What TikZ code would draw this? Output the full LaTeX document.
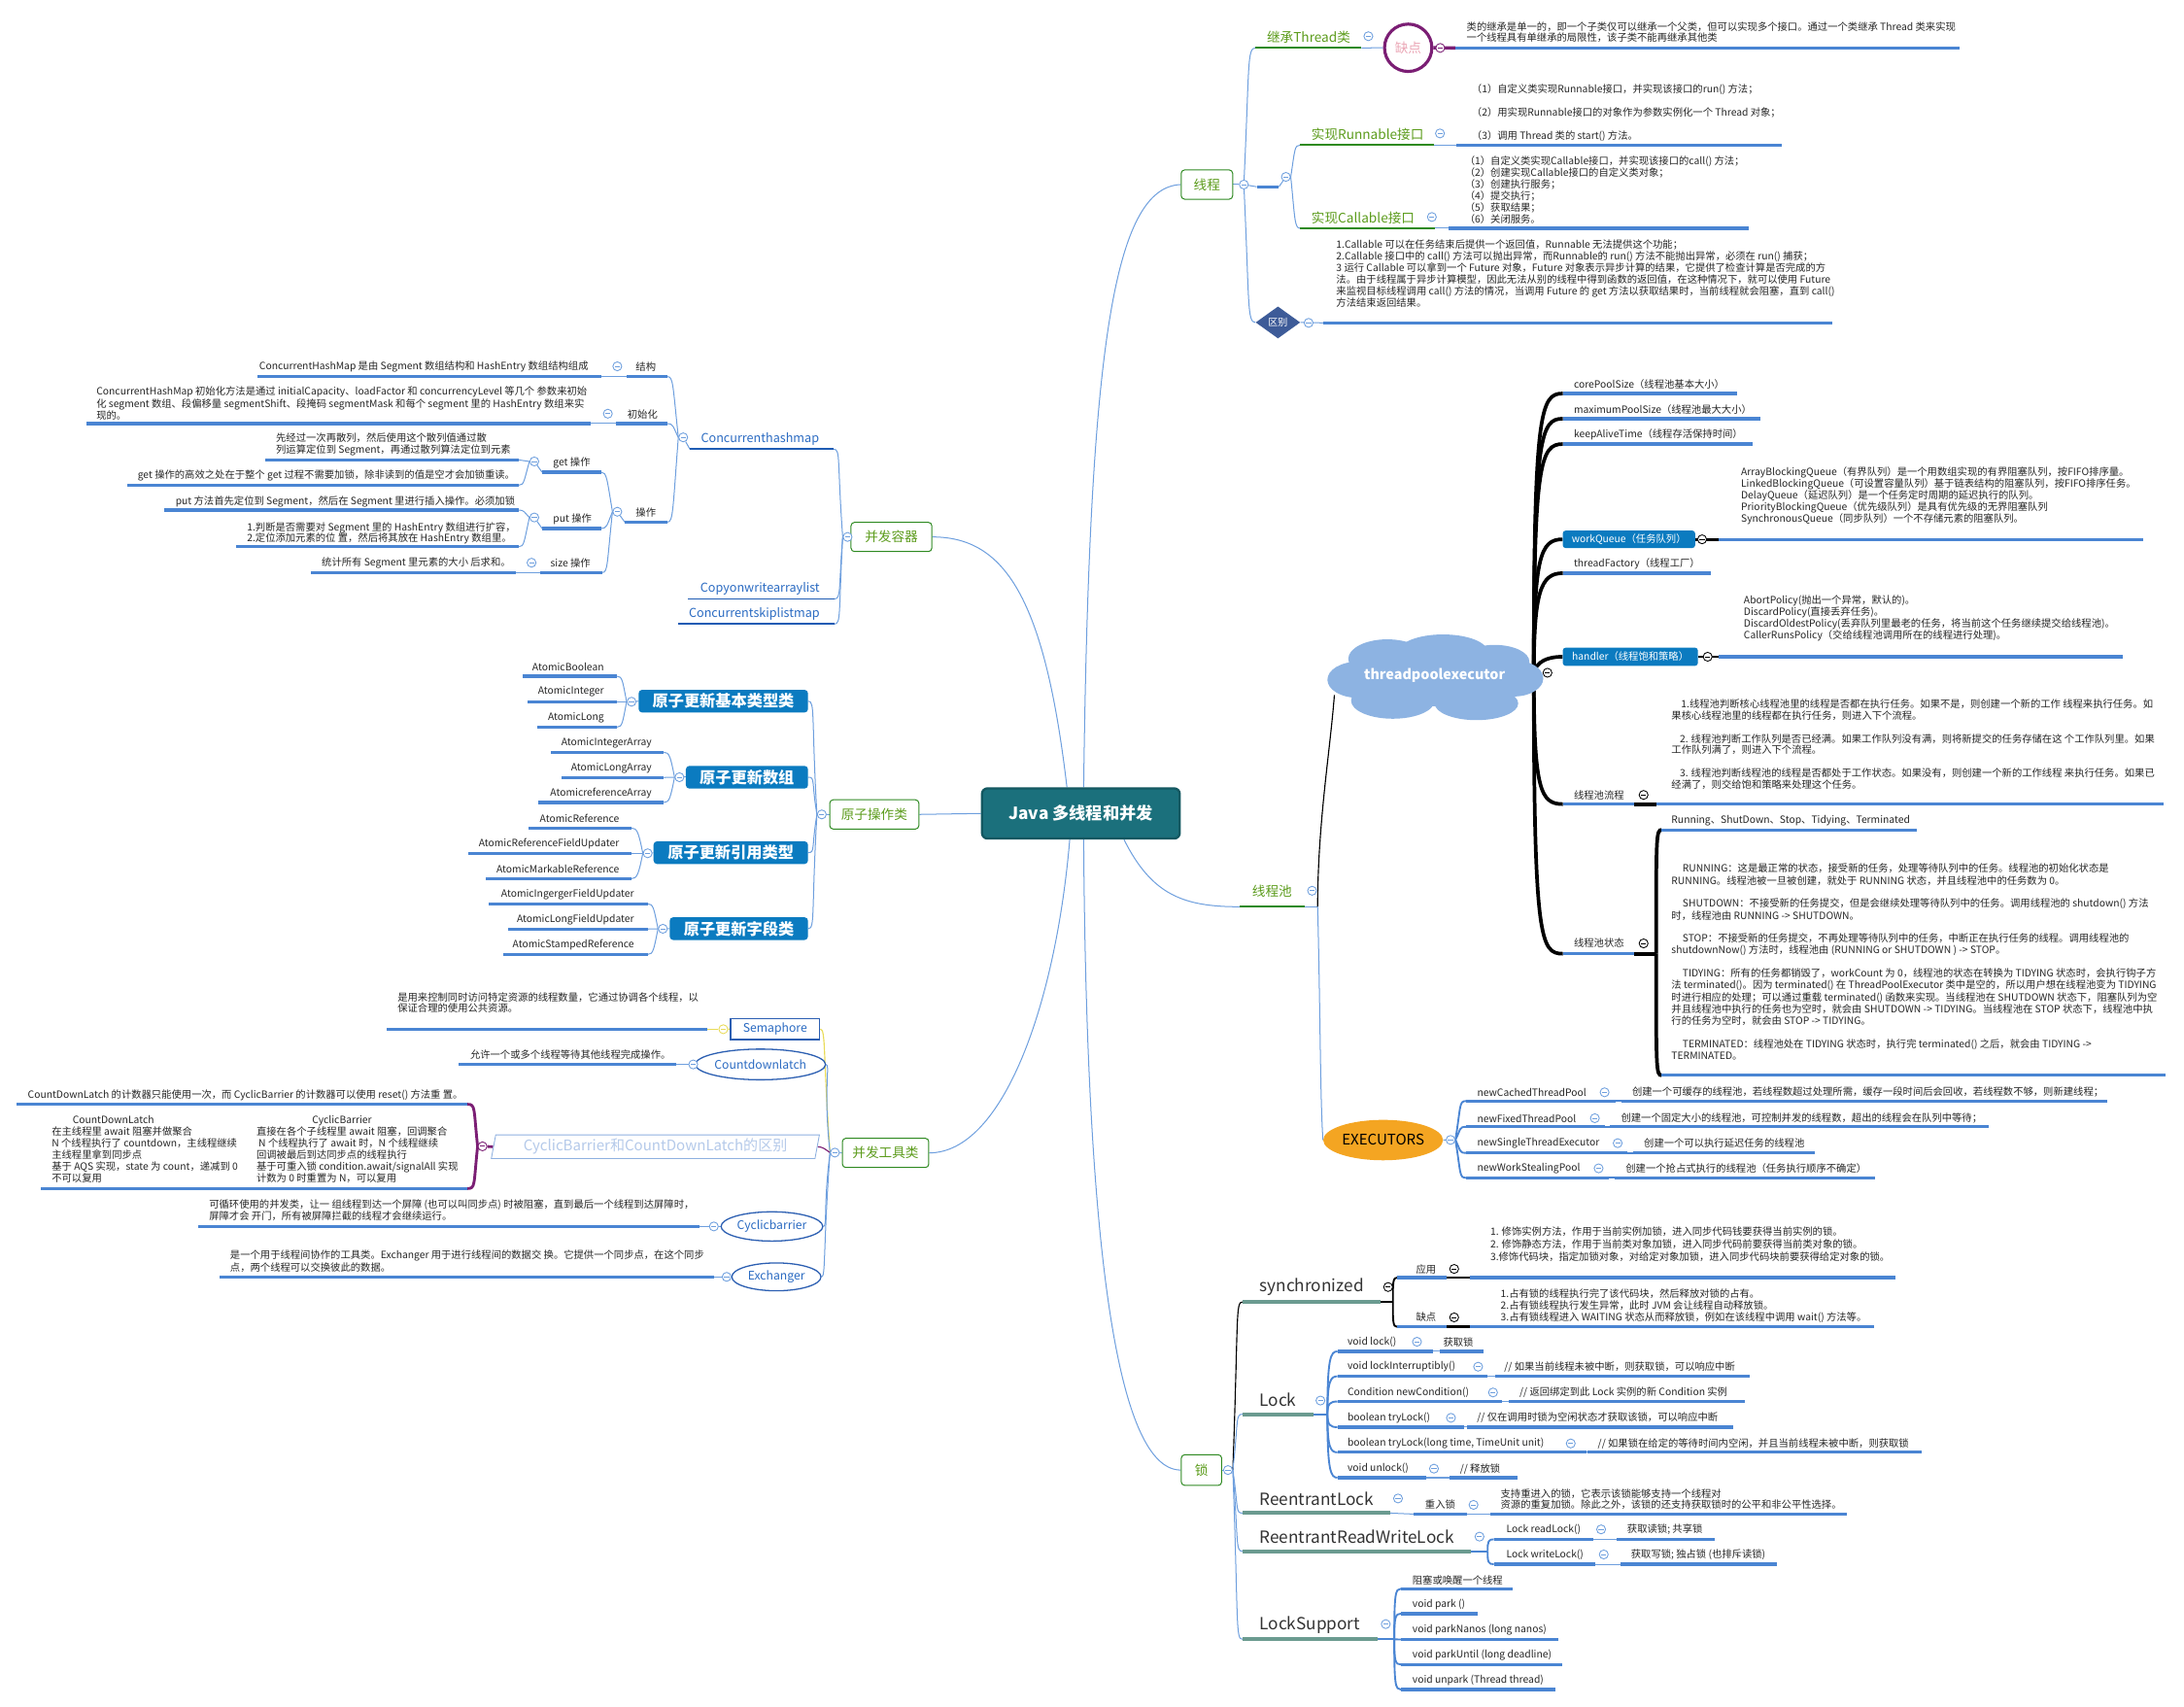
\documentclass[tikz,border=0pt]{standalone}
\usepackage{fontspec}
\setmainfont{Noto Sans CJK SC}
\usetikzlibrary{shapes.geometric,backgrounds}
\definecolor{txtc}{HTML}{262626}
\definecolor{cline}{HTML}{6E9FDE}
\definecolor{ulc}{HTML}{4A85D3}
\definecolor{ggreen}{HTML}{5C9C1C}
\definecolor{gborder}{HTML}{2F8A22}
\definecolor{ulgreen}{HTML}{2E8A1C}
\definecolor{rootfill}{HTML}{1B707C}
\definecolor{rootedge}{HTML}{145861}
\definecolor{abox}{HTML}{0B7BC0}
\definecolor{tealul}{HTML}{6B9B90}
\definecolor{cloudc}{HTML}{8DB3E2}
\definecolor{orangec}{HTML}{F4A522}
\definecolor{purplec}{HTML}{7B1E74}
\definecolor{pinkc}{HTML}{EBA7B6}
\definecolor{diac}{HTML}{3D5B98}
\definecolor{dkblue}{HTML}{2B6BC2}
\definecolor{dkblueul}{HTML}{1F5CB4}
\definecolor{semedge}{HTML}{2C5FB2}
\definecolor{paletext}{HTML}{B5CAEA}
\definecolor{paleedge}{HTML}{8EB0E0}
\definecolor{yellowc}{HTML}{E9DB58}
\definecolor{darktxt}{HTML}{333333}

\tikzset{
  lt/.style={inner sep=0pt, outer sep=0pt, anchor=west, text=txtc, font=\fontsize{7.2}{8.4}\selectfont},
  rtx/.style={lt, anchor=east},
  blk/.style={inner sep=0pt, outer sep=0pt, anchor=north west, align=left, text=txtc, font=\fontsize{7.2}{#1}\selectfont},
  barst/.style={rectangle, inner sep=0pt, outer sep=0pt, minimum height=2.2pt, fill=ulc, anchor=west},
  ubg/.style={fill=ulgreen, minimum height=1.3pt},
  ubt/.style={fill=tealul, minimum height=2.8pt},
  ubd/.style={fill=dkblueul, minimum height=1.3pt},
  foldc/.style={circle, draw=#1, fill=white, line width=0.6pt, minimum size=6.4pt, inner sep=0pt,
    path picture={\draw[#1, line width=0.6pt] ([xshift=1.4pt]path picture bounding box.west) -- ([xshift=-1.4pt]path picture bounding box.east);}},
  foldc/.default=cline,
  gbox/.style={rectangle, rounded corners=2.5pt, draw=gborder, line width=0.7pt, fill=white, text=ggreen, font=\fontsize{9.5}{11}\selectfont, inner sep=0pt, minimum height=21pt},
  gtxt/.style={inner sep=0pt, outer sep=0pt, anchor=west, text=ggreen, font=\fontsize{9.5}{11}\selectfont},
  abx/.style={rectangle, rounded corners=2.5pt, fill=abox, text=white, font=\fontsize{11.3}{13}\selectfont\bfseries, inner sep=0pt, minimum height=16.3pt},
  sbx/.style={rectangle, rounded corners=2pt, fill=abox, text=white, font=\fontsize{7.2}{8.4}\selectfont, inner sep=0pt},
  big/.style={inner sep=0pt, outer sep=0pt, anchor=west, text=darktxt, font=\fontsize{12}{14}\selectfont},
  blt/.style={inner sep=0pt, outer sep=0pt, text=dkblue, font=\fontsize{8.8}{10}\selectfont},
  ovl/.style={ellipse, draw=semedge, line width=0.9pt, fill=white, inner sep=0pt, text=dkblue, font=\fontsize{8.5}{10}\selectfont},
  conn/.style={draw=cline, line width=0.7pt},
  bconn/.style={draw=ulc, line width=1.3pt},
  kconn/.style={draw=black, line width=2.6pt},
}
% underline bar of a topic: [style]{name}{x0}{x1}{y}
\newcommand\topicbar[5][]{\node[barst,#1,minimum width={(#4)-(#3)}] (#2) at (#3,#5) {};}

\begin{document}
\begin{tikzpicture}[x=1pt,y=-1pt]
\useasboundingbox (0,0) rectangle (1568,1225);
\begin{scope}[on background layer]
  \fill[white] (0,0) rectangle (1568,1225);
\end{scope}

% ---------- root and main branches ----------
\node[rectangle, rounded corners=4pt, fill=rootfill, draw=rootedge, line width=1.6pt, minimum width=142pt, minimum height=36pt, inner sep=0pt, text=white, font=\fontsize{12}{14}\selectfont\bfseries] (root) at (776,584) {Java 多线程和并发};

\node[gbox, minimum width=37pt] (xc) at (866.5,132.5) {线程};
\node[foldc] (xc-f) at (893,132.5) {};
\node[gbox, minimum width=58pt] (bfrq) at (640,385.5) {并发容器};
\node[foldc] (bfrq-f) at (608.5,385.5) {};
\node[gbox, minimum width=64pt] (yzcz) at (627.7,584.7) {原子操作类};
\node[foldc] (yzcz-f) at (590,584.7) {};
\node[gbox, minimum width=62pt] (bfgj) at (635.8,827.7) {并发工具类};
\node[foldc] (bfgj-f) at (599.4,827.5) {};
\node[gbox, minimum width=29pt, minimum height=22pt] (suo) at (862.6,1055.4) {锁};
\node[foldc] (suo-f) at (881.6,1055.4) {};
\node[gtxt] (xcc-t) at (899,639.5) {线程池};
\topicbar[ubg]{xcc}{890}{937}{651}
\node[foldc] (xcc-f) at (942,639.5) {};
\coordinate (xcc-j) at (946,651);

% ---------- 线程 ----------
\node[gtxt] (jc-t) at (909.6,26.7) {继承Thread类};
\topicbar[ubg]{jc}{901.3}{977.4}{34.4}
\node[foldc] (jc-f) at (982.4,26) {};
\node[circle, draw=purplec, line width=2.2pt, fill=white, minimum size=34pt, inner sep=0pt, text=pinkc, font=\fontsize{9.5}{11}\selectfont] (qd) at (1011,34.3) {缺点};
\node[foldc=purplec] (qd-f) at (1034,34.4) {};
\topicbar{qd-u}{1045}{1407}{34.4}
\node[blk=7.6] (qd-x) at (1053,16.2) {类的继承是单一的，即一个子类仅可以继承一个父类，但可以实现多个接口。通过一个类继承 Thread 类来实现\\一个线程具有单继承的局限性，该子类不能再继承其他类};

\topicbar{xm}{902.3}{918.2}{134.1}
\node[foldc] (xm-f) at (923.2,127) {};

\node[gtxt] (rn-t) at (941.6,96.5) {实现Runnable接口};
\topicbar[ubg]{rn}{933.4}{1029.5}{104.2}
\node[foldc] (rn-f) at (1033.8,95.8) {};
\topicbar{rn-u}{1045.5}{1279.3}{104.2}
\node[blk=16.6] (rn-x) at (1056.7,60.4) {（1）自定义类实现Runnable接口，并实现该接口的run() 方法；\\（2）用实现Runnable接口的对象作为参数实例化一个 Thread 对象；\\（3）调用 Thread 类的 start() 方法。};

\node[gtxt] (cl-t) at (941.6,156.2) {实现Callable接口};
\topicbar[ubg]{cl}{933.4}{1030}{163.9}
\node[foldc] (cl-f) at (1028,155.8) {};
\topicbar{cl-u}{1040}{1255.5}{163.9}
\node[blk=8.36] (cl-x) at (1051.7,112) {（1）自定义类实现Callable接口，并实现该接口的call() 方法；\\（2）创建实现Callable接口的自定义类对象；\\（3）创建执行服务；\\（4）提交执行；\\（5）获取结果；\\（6）关闭服务。};

\node[diamond, aspect=1.4, fill=diac, minimum width=32pt, minimum height=23pt, inner sep=0pt, text=white, font=\fontsize{7}{8}\selectfont] (qb) at (917.5,231.5) {区别};
\node[foldc] (qb-f) at (939.5,231.8) {};
\topicbar{qb-u}{950.3}{1315.5}{231.8}
\node[blk=8.35] (qb-x) at (959.4,171.9) {1.Callable 可以在任务结束后提供一个返回值，Runnable 无法提供这个功能；\\2.Callable 接口中的 call() 方法可以抛出异常，而Runnable的 run() 方法不能抛出异常，必须在 run() 捕获；\\3 运行 Callable 可以拿到一个 Future 对象，Future 对象表示异步计算的结果，它提供了检查计算是否完成的方\\法。由于线程属于异步计算模型，因此无法从别的线程中得到函数的返回值，在这种情况下，就可以使用 Future\\来监视目标线程调用 call() 方法的情况，当调用 Future 的 get 方法以获取结果时，当前线程就会阻塞，直到 call()\\方法结束返回结果。};

% ---------- 线程池 ----------
% cloud body built from overlapping puffs
\begin{scope}[fill=cloudc]
  \fill (1030,487) ellipse [x radius=70pt, y radius=20pt];
  \fill (975,488) ellipse [x radius=22pt, y radius=13pt];
  \fill (1087,487) ellipse [x radius=21pt, y radius=13pt];
  \fill (996,473) ellipse [x radius=28pt, y radius=14pt];
  \fill (1036,468) ellipse [x radius=32pt, y radius=12.5pt];
  \fill (1073,475) ellipse [x radius=25pt, y radius=12pt];
  \fill (1000,503) ellipse [x radius=30pt, y radius=13pt];
  \fill (1060,505) ellipse [x radius=30pt, y radius=12pt];
\end{scope}
\node[rectangle, minimum width=156pt, minimum height=60pt, inner sep=0pt, text=white, font=\fontsize{10}{12}\selectfont\bfseries] (tpe) at (1030,485) {threadpoolexecutor};
\node[foldc=black] (tpe-f) at (1111,483) {};

\topicbar{cp}{1122}{1247}{282.5}
\node[lt] (cp-t) at (1130,276) {corePoolSize（线程池基本大小）};
\topicbar{mp}{1122}{1264}{300.6}
\node[lt] (mp-t) at (1130,294) {maximumPoolSize（线程池最大大小）};
\topicbar{ka}{1122}{1258.6}{318.8}
\node[lt] (ka-t) at (1130,312) {keepAliveTime（线程存活保持时间）};
\node[sbx, minimum width=95pt, minimum height=12.5pt] (wq) at (1169.5,387.2) {workQueue（任务队列）};
\node[foldc=black] (wq-f) at (1222,387.2) {};
\topicbar{wq-u}{1234}{1539}{387.2}
\node[blk=8.3] (wq-x) at (1250,335.2) {ArrayBlockingQueue（有界队列）是一个用数组实现的有界阻塞队列，按FIFO排序量。\\LinkedBlockingQueue（可设置容量队列）基于链表结构的阻塞队列，按FIFO排序任务。\\DelayQueue（延迟队列）是一个任务定时周期的延迟执行的队列。\\PriorityBlockingQueue（优先级队列）是具有优先级的无界阻塞队列\\SynchronousQueue（同步队列）一个不存储元素的阻塞队列。};
\topicbar{tf}{1122}{1228}{411.5}
\node[lt] (tf-t) at (1130,405) {threadFactory（线程工厂）};
\node[sbx, minimum width=97pt, minimum height=13pt] (hd) at (1170.5,471.5) {handler（线程饱和策略）};
\node[foldc=black] (hd-f) at (1226,471.5) {};
\topicbar{hd-u}{1234}{1524}{471.5}
\node[blk=8.3] (hd-x) at (1252,427.4) {AbortPolicy(抛出一个异常，默认的)。\\DiscardPolicy(直接丢弃任务)。\\DiscardOldestPolicy(丢弃队列里最老的任务，将当前这个任务继续提交给线程池)。\\CallerRunsPolicy（交给线程池调用所在的线程进行处理)。};

\topicbar{lc}{1122}{1173}{577.3}
\node[lt] (lc-t) at (1130,570.7) {线程池流程};
\node[foldc=black] (lc-f) at (1180,570.7) {};
\topicbar{lc-u}{1189}{1553}{577.3}
\node[blk=8] (lc-x) at (1200,502.4) {\hspace*{7pt}1.线程池判断核心线程池里的线程是否都在执行任务。如果不是，则创建一个新的工作 线程来执行任务。如\\果核心线程池里的线程都在执行任务，则进入下个流程。\\[8.6pt]\hspace*{6pt}2. 线程池判断工作队列是否已经满。如果工作队列没有满，则将新提交的任务存储在这 个工作队列里。如果\\工作队列满了，则进入下个流程。\\[8.6pt]\hspace*{6pt}3. 线程池判断线程池的线程是否都处于工作状态。如果没有，则创建一个新的工作线程 来执行任务。如果已\\经满了，则交给饱和策略来处理这个任务。};

\topicbar{zt}{1122}{1173}{684.7}
\node[lt] (zt-t) at (1130,677.3) {线程池状态};
\node[foldc=black] (zt-f) at (1180,677.3) {};
\coordinate (zt-j) at (1189,684.7);
\topicbar{zt-u1}{1193}{1376}{595.8}
\node[lt] (zt-x1) at (1200,589) {Running、ShutDown、Stop、Tidying、Terminated};
\topicbar{zt-u2}{1193}{1555}{772}
\node[blk=8.45] (zt-x2) at (1200,620.2) {\hspace*{8pt}RUNNING：这是最正常的状态，接受新的任务，处理等待队列中的任务。线程池的初始化状态是\\RUNNING。线程池被一旦被创建，就处于 RUNNING 状态，并且线程池中的任务数为 0。\\[8.2pt]\hspace*{8pt}SHUTDOWN：不接受新的任务提交，但是会继续处理等待队列中的任务。调用线程池的 shutdown() 方法\\时，线程池由 RUNNING -> SHUTDOWN。\\[8.2pt]\hspace*{8pt}STOP：不接受新的任务提交，不再处理等待队列中的任务，中断正在执行任务的线程。调用线程池的\\shutdownNow() 方法时，线程池由 (RUNNING or SHUTDOWN ) -> STOP。\\[8.2pt]\hspace*{8pt}TIDYING：所有的任务都销毁了，workCount 为 0，线程池的状态在转换为 TIDYING 状态时，会执行钩子方\\法 terminated()。因为 terminated() 在 ThreadPoolExecutor 类中是空的，所以用户想在线程池变为 TIDYING\\时进行相应的处理；可以通过重载 terminated() 函数来实现。当线程池在 SHUTDOWN 状态下，阻塞队列为空\\并且线程池中执行的任务也为空时，就会由 SHUTDOWN -> TIDYING。当线程池在 STOP 状态下，线程池中执\\行的任务为空时，就会由 STOP -> TIDYING。\\[8.2pt]\hspace*{8pt}TERMINATED：线程池处在 TIDYING 状态时，执行完 terminated() 之后，就会由 TIDYING ->\\TERMINATED。};

\node[ellipse, fill=orangec, minimum width=86pt, minimum height=29pt, inner sep=0pt, text=black, font=\fontsize{10.5}{12}\selectfont] (exe) at (993,818.5) {EXECUTORS};
\node[foldc] (exe-f) at (1041.4,818.4) {};
\topicbar{nc}{1052.5}{1160}{790.5}
\node[lt] (nc-t) at (1060.6,784.2) {newCachedThreadPool};
\node[foldc] (nc-f) at (1152,784.2) {};
\topicbar{nc-u}{1164}{1513}{790.5}
\node[lt] (nc-x) at (1171.8,784.2) {创建一个可缓存的线程池，若线程数超过处理所需，缓存一段时间后会回收，若线程数不够，则新建线程；};
\topicbar{nf}{1052.5}{1152}{809}
\node[lt] (nf-t) at (1060.6,802.8) {newFixedThreadPool};
\node[foldc] (nf-f) at (1145,802.8) {};
\topicbar{nf-u}{1156}{1427.5}{809}
\node[lt] (nf-x) at (1163.8,802.8) {创建一个固定大小的线程池，可控制并发的线程数，超出的线程会在队列中等待；};
\topicbar{ns}{1052.5}{1168}{827.7}
\node[lt] (ns-t) at (1060.6,820.7) {newSingleThreadExecutor};
\node[foldc] (ns-f) at (1161.4,820.7) {};
\topicbar{ns-u}{1172.4}{1303}{827.7}
\node[lt] (ns-x) at (1180.3,820.7) {创建一个可以执行延迟任务的线程池};
\topicbar{nw}{1052.5}{1155}{845.6}
\node[lt] (nw-t) at (1060.6,838.8) {newWorkStealingPool};
\node[foldc] (nw-f) at (1147.7,838.8) {};
\topicbar{nw-u}{1159.3}{1345.9}{845.6}
\node[lt] (nw-x) at (1167.2,838.8) {创建一个抢占式执行的线程池（任务执行顺序不确定）};

% ---------- 锁 ----------
\node[big] (sy-t) at (904.4,924.2) {synchronized};
\topicbar[ubt]{sy}{892}{990.9}{934.7}
\node[foldc=black] (sy-f) at (996.6,924) {};
\coordinate (sy-j) at (1000,934.7);
\node[lt] (yy-t) at (1016.7,911) {应用};
\topicbar{yy}{1003}{1038.4}{917.2}
\node[foldc=black] (yy-f) at (1044,911) {};
\topicbar{yy-u}{1055.3}{1361}{917.2}
\node[blk=9.05] (yy-x) at (1070,881.1) {1. 修饰实例方法，作用于当前实例加锁，进入同步代码钱要获得当前实例的锁。\\2. 修饰静态方法，作用于当前类对象加锁，进入同步代码前要获得当前类对象的锁。\\3.修饰代码块，指定加锁对象，对给定对象加锁，进入同步代码块前要获得给定对象的锁。};
\node[lt] (qd2-t) at (1016.7,945.8) {缺点};
\topicbar{qd2}{1003}{1038.4}{952.6}
\node[foldc=black] (qd2-f) at (1044,945.8) {};
\topicbar{qd2-u}{1055.3}{1345.6}{952.6}
\node[blk=8.5] (qd2-x) at (1077.4,925.2) {1.占有锁的线程执行完了该代码块，然后释放对锁的占有。\\2.占有锁线程执行发生异常，此时 JVM 会让线程自动释放锁。\\3.占有锁线程进入 WAITING 状态从而释放锁，例如在该线程中调用 wait() 方法等。};

\node[big] (lk-t) at (904.4,1005) {Lock};
\topicbar[ubt]{lk}{892}{942.8}{1015.3}
\node[foldc] (lk-f) at (948,1005.5) {};
\coordinate (lk-j) at (953,1015.3);
\topicbar{l1}{960.2}{1028.7}{970.2}
\node[lt] (l1-t) at (967.5,963.3) {void lock()};
\node[foldc] (l1-f) at (1017.3,963.3) {};
\topicbar{l1-u}{1033.6}{1065.4}{970.2}
\node[lt] (l1-x) at (1036.2,963.3) {获取锁};
\topicbar{l2}{960.2}{1067.6}{988.1}
\node[lt] (l2-t) at (967.5,981.2) {void lockInterruptibly()};
\node[foldc] (l2-f) at (1061.2,981.2) {};
\topicbar{l2-u}{1073.4}{1256}{988.1}
\node[lt] (l2-x) at (1080,981.2) {// 如果当前线程未被中断，则获取锁，可以响应中断};
\topicbar{l3}{960.2}{1078}{1006.2}
\node[lt] (l3-t) at (967.5,999.7) {Condition newCondition()};
\node[foldc] (l3-f) at (1071.9,999.7) {};
\topicbar{l3-u}{1083.2}{1252.7}{1006.2}
\node[lt] (l3-x) at (1091,999.7) {// 返回绑定到此 Lock 实例的新 Condition 实例};
\topicbar{l4}{960.2}{1050.8}{1024.6}
\node[lt] (l4-t) at (967.5,1017.9) {boolean tryLock()};
\node[foldc] (l4-f) at (1041.7,1017.9) {};
\topicbar{l4-u}{1053}{1244}{1024.6}
\node[lt] (l4-x) at (1060.5,1017.9) {// 仅在调用时锁为空闲状态才获取该锁，可以响应中断};
\topicbar{l5}{960.2}{1139}{1042.7}
\node[lt] (l5-t) at (967.5,1036.3) {boolean tryLock(long time, TimeUnit unit)};
\node[foldc] (l5-f) at (1127.7,1036.3) {};
\topicbar{l5-u}{1139.5}{1380}{1042.7}
\node[lt] (l5-x) at (1147.2,1036.3) {// 如果锁在给定的等待时间内空闲，并且当前线程未被中断，则获取锁};
\topicbar{l6}{960.2}{1023.9}{1060.9}
\node[lt] (l6-t) at (967.5,1054.4) {void unlock()};
\node[foldc] (l6-f) at (1029.5,1054.4) {};
\topicbar{l6-u}{1041}{1089.8}{1060.9}
\node[lt] (l6-x) at (1048.2,1054.4) {// 释放锁};

\node[big] (rl-t) at (904.4,1076) {ReentrantLock};
\topicbar[ubt]{rl}{892}{997.9}{1086.3}
\node[foldc] (rl-f) at (1003.7,1075.8) {};
\node[lt] (cr-t) at (1023.2,1080.4) {重入锁};
\topicbar{cr}{1015}{1053}{1087}
\node[foldc] (cr-f) at (1057.9,1080.4) {};
\topicbar{cr-u}{1070}{1325.8}{1087}
\node[blk=7.9] (cr-x) at (1077.4,1068.9) {支持重进入的锁，它表示该锁能够支持一个线程对\\资源的重复加锁。除此之外，该锁的还支持获取锁时的公平和非公平性选择。};

\node[big] (rw-t) at (904.4,1103.2) {ReentrantReadWriteLock};
\topicbar[ubt]{rw}{892}{1056.3}{1113.7}
\node[foldc] (rw-f) at (1062.2,1103.2) {};
\coordinate (rw-j) at (1068,1113.7);
\topicbar{rd}{1072.5}{1144}{1105.1}
\node[lt] (rd-t) at (1081.6,1098) {Lock readLock()};
\node[foldc] (rd-f) at (1149.5,1098) {};
\topicbar{rd-u}{1160.6}{1231}{1105.1}
\node[lt] (rd-x) at (1168.3,1098) {获取读锁; 共享锁};
\topicbar{wr}{1072.5}{1145.6}{1123}
\node[lt] (wr-t) at (1081.6,1116) {Lock writeLock()};
\node[foldc] (wr-f) at (1151.4,1116) {};
\topicbar{wr-u}{1163.4}{1275.4}{1123}
\node[lt] (wr-x) at (1171,1116) {获取写锁; 独占锁 (也排斥读锁)};

\node[big] (ls-t) at (904.4,1166.4) {LockSupport};
\topicbar[ubt]{ls}{892}{989}{1176.9}
\node[foldc] (ls-f) at (994.9,1166) {};
\coordinate (ls-j) at (1001,1176.9);
\topicbar{s1}{1005.8}{1086.2}{1140.6}
\node[lt] (s1-t) at (1014.1,1134.2) {阻塞或唤醒一个线程};
\topicbar{s2}{1005.8}{1061.2}{1158.5}
\node[lt] (s2-t) at (1014.1,1152) {void park ()};
\topicbar{s3}{1005.8}{1118.8}{1177}
\node[lt] (s3-t) at (1014.1,1170) {void parkNanos (long nanos)};
\topicbar{s4}{1005.8}{1121.6}{1195}
\node[lt] (s4-t) at (1014.1,1188) {void parkUntil (long deadline)};
\topicbar{s5}{1005.8}{1117}{1213}
\node[lt] (s5-t) at (1014.1,1206.2) {void unpark (Thread thread)};

% ---------- 并发容器 ----------
\node[blt, anchor=west] (chm-t) at (503.3,315) {Concurrenthashmap};
\topicbar[ubd]{chm}{495.3}{598.6}{322.5}
\node[foldc] (chm-f) at (490.5,314) {};
\node[blt, anchor=east] (cow-t) at (588.5,422.4) {Copyonwritearraylist};
\topicbar[ubd]{cow}{494}{599}{430}
\node[blt, anchor=east] (csl-t) at (588.5,440.6) {Concurrentskiplistmap};
\topicbar[ubd]{csl}{487}{599}{448}

\node[lt] (jg-t) at (456.5,263.2) {结构};
\topicbar{jg}{449.7}{479.3}{270.4}
\node[foldc] (jg-f) at (443.2,263) {};
\topicbar{jg-u}{184.9}{431.6}{270.4}
\node[rtx] (jg-x) at (422.4,263.2) {ConcurrentHashMap 是由 Segment 数组结构和 HashEntry 数组结构组成};

\node[lt] (csh-t) at (450.5,297.6) {初始化};
\topicbar{csh}{442.4}{479.3}{304.1}
\node[foldc] (csh-f) at (436.4,297) {};
\topicbar{csh-u}{62.1}{424.4}{304.1}
\node[blk=8.5] (csh-x) at (69.3,277.7) {ConcurrentHashMap 初始化方法是通过 initialCapacity、loadFactor 和 concurrencyLevel 等几个 参数来初始\\化 segment 数组、段偏移量 segmentShift、段掩码 segmentMask 和每个 segment 里的 HashEntry 数组来实\\现的。};

\node[lt] (cz-t) at (456.5,368) {操作};
\topicbar{cz}{448.5}{479.3}{374.8}
\node[foldc] (cz-f) at (443.2,367.4) {};

\node[lt] (get-t) at (397.2,332.5) {get 操作};
\topicbar{get}{389.2}{431.6}{339}
\node[foldc] (get-f) at (383.6,331.3) {};
\topicbar{get-u1}{190.2}{372.4}{330.2}
\node[blk=8.9] (get-x1) at (198.2,310.7) {先经过一次再散列，然后使用这个散列值通过散\\列运算定位到 Segment，再通过散列算法定位到元素};
\topicbar{get-u2}{91.3}{372.4}{348.3}
\node[lt] (get-x2) at (98.9,341.3) {get 操作的高效之处在于整个 get 过程不需要加锁，除非读到的值是空才会加锁重读。};

\node[lt] (put-t) at (397.2,372.5) {put 操作};
\topicbar{put}{389.2}{431.6}{379.4}
\node[foldc] (put-f) at (383.6,371.5) {};
\topicbar{put-u1}{118.1}{372.4}{366.2}
\node[lt] (put-x1) at (126.1,359.9) {put 方法首先定位到 Segment，然后在 Segment 里进行插入操作。必须加锁};
\topicbar{put-u2}{169.4}{372.4}{392.5}
\node[blk=8] (put-x2) at (177.4,374.9) {1.判断是否需要对 Segment 里的 HashEntry 数组进行扩容，\\2.定位添加元素的位 置，然后将其放在 HashEntry 数组里。};

\node[lt] (size-t) at (395.2,404.1) {size 操作};
\topicbar{size}{387.6}{432.4}{411}
\node[foldc] (size-f) at (381.6,404) {};
\topicbar{size-u}{223}{370.4}{411}
\node[lt] (size-x) at (231,404.1) {统计所有 Segment 里元素的大小 后求和。};

% ---------- 原子操作类 ----------
\node[abx, minimum width=121.6pt] (a1) at (519.3,503.4) {原子更新基本类型类};
\node[foldc] (a1-f) at (453.4,503.8) {};
\topicbar{a1-1}{375.5}{442.9}{485.5}
\node[rtx] (a1-1t) at (433.6,478.5) {AtomicBoolean};
\topicbar{a1-2}{379}{442.9}{503.8}
\node[rtx] (a1-2t) at (433.6,496.8) {AtomicInteger};
\topicbar{a1-3}{386}{442.9}{522}
\node[rtx] (a1-3t) at (433.6,515) {AtomicLong};

\node[abx, minimum width=87.7pt] (a2) at (536.25,558) {原子更新数组};
\node[foldc] (a2-f) at (487.8,558) {};
\topicbar{a2-1}{395.7}{476.6}{540.1}
\node[rtx] (a2-1t) at (467.8,533.1) {AtomicIntegerArray};
\topicbar{a2-2}{402.9}{476.6}{558.2}
\node[rtx] (a2-2t) at (467.8,551.3) {AtomicLongArray};
\topicbar{a2-3}{386.6}{476.6}{576.1}
\node[rtx] (a2-3t) at (467.8,569.4) {AtomicreferenceArray};

\node[abx, minimum width=110.9pt] (a3) at (524.65,612.15) {原子更新引用类型};
\node[foldc] (a3-f) at (465,612.6) {};
\topicbar{a3-1}{379.7}{453.4}{594.5}
\node[rtx] (a3-1t) at (444.5,587.5) {AtomicReference};
\topicbar{a3-2}{336.4}{453.4}{612.6}
\node[rtx] (a3-2t) at (444.5,605.6) {AtomicReferenceFieldUpdater};
\topicbar{a3-3}{348.8}{453.4}{630.8}
\node[rtx] (a3-3t) at (444.5,623.8) {AtomicMarkableReference};

\node[abx, minimum width=99.3pt] (a4) at (530.45,666.7) {原子更新字段类};
\node[foldc] (a4-f) at (475.9,666.8) {};
\topicbar{a4-1}{351.1}{465}{648.9}
\node[rtx] (a4-1t) at (455.2,641.9) {AtomicIngergerFieldUpdater};
\topicbar{a4-2}{365}{465}{667}
\node[rtx] (a4-2t) at (455.2,660) {AtomicLongFieldUpdater};
\topicbar{a4-3}{361.1}{465}{685.2}
\node[rtx] (a4-3t) at (455.2,678.2) {AtomicStampedReference};

% ---------- 并发工具类 ----------
\node[rectangle, draw=semedge, line width=0.9pt, fill=white, minimum width=64pt, minimum height=15pt, inner sep=0pt, text=dkblue, font=\fontsize{8.5}{10}\selectfont] (sem) at (556.5,738.8) {Semaphore};
\node[foldc=yellowc] (sem-f) at (519.3,738.9) {};
\topicbar{sem-u}{277.5}{507.7}{738.9}
\node[blk=7.8] (sem-x) at (285.5,712.4) {是用来控制同时访问特定资源的线程数量，它通过协调各个线程，以\\保证合理的使用公共资源。};

\node[ovl, minimum width=87pt, minimum height=22pt] (cdl) at (546,764.2) {Countdownlatch};
\node[foldc] (cdl-f) at (497.7,764.2) {};
\topicbar{cdl-u}{329.5}{485.7}{764.2}
\node[lt] (cdl-x) at (337.6,757.5) {允许一个或多个线程等待其他线程完成操作。};

\node[trapezium, trapezium left angle=77, trapezium right angle=103, trapezium stretches=true, draw=paleedge, line width=0.6pt, fill=white, minimum width=236pt, minimum height=17pt, inner sep=0pt, text=paletext, font=\fontsize{10.5}{12}\selectfont] (cbq) at (470.5,823.3) {CyclicBarrier和CountDownLatch的区别};
\node[foldc=purplec] (cbq-f) at (346.4,823) {};
\topicbar{cbq-u1}{12}{335.5}{792.8}
\node[lt] (cbq-x1) at (20,786.5) {CountDownLatch 的计数器只能使用一次，而 CyclicBarrier 的计数器可以使用 reset() 方法重 置。};
\topicbar{cbq-u2}{29.2}{335.5}{853.3}
\node[blk=8.4] (cbq-c1) at (37.2,800.8) {\hspace*{15pt}CountDownLatch\\在主线程里 await 阻塞并做聚合\\N 个线程执行了 countdown，主线程继续\\主线程里拿到同步点\\基于 AQS 实现，state 为 count，递减到 0\\不可以复用};
\node[blk=8.4] (cbq-c2) at (184.2,800.8) {\hspace*{40pt}CyclicBarrier\\直接在各个子线程里 await 阻塞，回调聚合\\\hspace*{1.5pt}N 个线程执行了 await 时，N 个线程继续\\回调被最后到达同步点的线程执行\\基于可重入锁 condition.await/signalAll 实现\\计数为 0 时重置为 N，可以复用};

\node[ovl, minimum width=73pt, minimum height=21pt] (cb) at (554.2,880.5) {Cyclicbarrier};
\node[foldc] (cb-f) at (512.5,880.5) {};
\topicbar{cb-u}{142.1}{502.5}{880.5}
\node[blk=8.1] (cb-x) at (150.2,861.3) {可循环使用的并发类，让一 组线程到达一个屏障 (也可以叫同步点) 时被阻塞，直到最后一个线程到达屏障时，\\屏障才会 开门，所有被屏障拦截的线程才会继续运行。};

\node[ovl, minimum width=64pt, minimum height=20pt] (ex) at (557.4,916.7) {Exchanger};
\node[foldc] (ex-f) at (521.7,916.7) {};
\topicbar{ex-u}{157.4}{512.5}{916.7}
\node[blk=7.7] (ex-x) at (165.3,897.8) {是一个用于线程间协作的工具类。Exchanger 用于进行线程间的数据交 换。它提供一个同步点，在这个同步\\点，两个线程可以交换彼此的数据。};

% ================= connectors =================
\begin{scope}[on background layer]
  % from the central topic
  \draw[conn] ([xshift=2pt]root.north) .. controls +(4,-316) and +(-48,2) .. (xc.west);
  \draw[conn] ([xshift=-10pt]root.north) .. controls +(-16,-136) and +(52,0) .. (bfrq.east);
  \draw[conn] (root.west) -- (yzcz.east);
  \draw[conn] ([xshift=-8pt]root.south) .. controls +(-10,118) and +(53,0) .. (bfgj.east);
  \draw[conn] ([xshift=2pt]root.south) .. controls +(2,300) and +(-45,0) .. (suo.west);
  \draw[conn] ([xshift=31pt]root.south) .. controls +(20,40) and +(-40,0) .. (xcc.west);

  % 线程
  \draw[conn] (xc.east) -- (xc-f);
  \draw[conn] (xc-f) .. controls +(4,-85) and +(-6,0) .. (jc.west);
  \draw[conn] (xc-f) -- (xm.west);
  \draw[conn] (xc-f) .. controls +(4,85) and +(-6,0) .. (qb.west);
  \draw[conn] (jc.east) -- (qd.west);
  \draw[purplec, line width=2.4pt] (qd.east) -- (qd-u.west);
  \draw[conn] (xm.east) -- (xm-f);
  \draw[conn] (xm-f.east) .. controls +(3,-20) and +(-4,0) .. (rn.west);
  \draw[conn] (xm-f.east) .. controls +(3,30) and +(-4,0) .. (cl.west);
  \draw[conn] (rn.east) -- (rn-u.west);
  \draw[conn] (cl.east) -- (cl-u.west);
  \draw[conn] (qb.east) -- (qb-u.west);

  % 线程池
  \draw[conn] (xcc.east) -- (xcc-j);
  \draw[black, line width=0.8pt] (xcc-j) .. controls +(0,-60) and +(-3,40) .. ([xshift=-72pt,yshift=-14pt]tpe.center);
  \draw[conn] (xcc-j) .. controls +(2,80) and +(-2,-30) .. (exe.west);
  \foreach \nm/\dy in {cp/-190, mp/-172, ka/-153, wq/-85, tf/-60, hd/-6, lc/82, zt/190}
    \draw[kconn] ([xshift=-7pt]tpe.east) .. controls +(0,\dy) and +(-16,0) .. (\nm.west);
  \draw[black, line width=2pt] (wq.east) -- (wq-u.west);
  \draw[black, line width=2pt] (hd.east) -- (hd-u.west);
  \draw[black, line width=2.6pt] (lc.east) -- (lc-u.west);
  \draw[black, line width=2.6pt] (zt.east) -- (zt-j);
  \draw[kconn] (zt-j) .. controls +(0,-85) and +(-4,0) .. (zt-u1.west);
  \draw[kconn] (zt-j) .. controls +(0,84) and +(-4,0) .. (zt-u2.west);
  \draw[conn] (exe.east) -- (exe-f);
  \foreach \nm/\dy in {nc/-25, nf/-8, ns/8, nw/24}
    \draw[bconn] (exe-f.east) .. controls +(4,\dy) and +(-5,0) .. (\nm.west);
  \foreach \nm in {nc,nf,ns,nw}
    \draw[bconn] (\nm.east) -- (\nm-u.west);

  % 锁
  \draw[conn] (suo.east) -- (suo-f);
  \draw[black, line width=0.8pt] (suo-f.east) .. controls +(4,-110) and +(-5,0) .. (sy.west);
  \foreach \nm/\dy in {lk/-36, rl/28, rw/52, ls/110}
    \draw[conn] (suo-f.east) .. controls +(4,\dy) and +(-5,0) .. (\nm.west);
  \draw[black, line width=1.3pt] (sy.east) -- (sy-j);
  \draw[black, line width=1.3pt] (sy-j) .. controls +(0,-14) and +(-3,0) .. (yy.west);
  \draw[black, line width=1.3pt] (sy-j) .. controls +(0,14) and +(-3,0) .. (qd2.west);
  \draw[black, line width=2pt] (yy.east) -- (yy-u.west);
  \draw[black, line width=2pt] (qd2.east) -- (qd2-u.west);
  \draw[bconn] (lk.east) -- (lk-j);
  \foreach \nm/\dy in {l1/-40, l2/-24, l3/-8, l4/8, l5/24, l6/40}
    \draw[bconn] (lk-j) .. controls +(0,\dy) and +(-5,0) .. (\nm.west);
  \foreach \nm in {l1,l2,l3,l4,l5,l6}
    \draw[conn] (\nm.east) -- (\nm-u.west);
  \draw[conn] (rl.east) -- (cr.west);
  \draw[conn] (cr.east) -- (cr-u.west);
  \draw[bconn] (rw.east) -- (rw-j);
  \draw[bconn] (rw-j) .. controls +(0,-7) and +(-4,0) .. (rd.west);
  \draw[bconn] (rw-j) .. controls +(0,8) and +(-4,0) .. (wr.west);
  \draw[conn] (rd.east) -- (rd-u.west);
  \draw[conn] (wr.east) -- (wr-u.west);
  \draw[bconn] (ls.east) -- (ls-j);
  \foreach \nm/\dy in {s1/-33, s2/-16, s3/0, s4/16, s5/33}
    \draw[bconn] (ls-j) .. controls +(0,\dy) and +(-4,0) .. (\nm.west);

  % 并发容器
  \draw[conn] (bfrq.west) -- (bfrq-f);
  \draw[conn] (bfrq-f.west) .. controls +(-4,-55) and +(5,0) .. (chm.east);
  \draw[conn] (bfrq-f.west) .. controls +(-3,38) and +(5,0) .. (cow.east);
  \draw[conn] (bfrq-f.west) .. controls +(-3,55) and +(5,0) .. (csl.east);
  \draw[conn] (chm.west) -- (chm-f);
  \draw[conn] (chm-f.west) .. controls +(-4,-38) and +(4,0) .. (jg.east);
  \draw[conn] (chm-f.west) .. controls +(-4,-8) and +(4,0) .. (csh.east);
  \draw[conn] (chm-f.west) .. controls +(-4,52) and +(4,0) .. (cz.east);
  \draw[conn] (jg-u.east) -- (jg.west);
  \draw[conn] (csh-u.east) -- (csh.west);
  \draw[conn] (cz.west) -- (cz-f);
  \draw[conn] (cz-f.west) .. controls +(-4,-24) and +(4,0) .. (get.east);
  \draw[conn] (cz-f.west) .. controls +(-4,10) and +(4,0) .. (put.east);
  \draw[conn] (cz-f.west) .. controls +(-4,38) and +(4,0) .. (size.east);
  \draw[conn] (get.west) -- (get-f);
  \draw[conn] (get-f.west) .. controls +(-4,-1) and +(4,0) .. (get-u1.east);
  \draw[conn] (get-f.west) .. controls +(-4,14) and +(4,0) .. (get-u2.east);
  \draw[conn] (put.west) -- (put-f);
  \draw[conn] (put-f.west) .. controls +(-4,-4) and +(4,0) .. (put-u1.east);
  \draw[conn] (put-f.west) .. controls +(-4,18) and +(4,0) .. (put-u2.east);
  \draw[conn] (size.west) -- (size-u.east);

  % 原子操作类
  \draw[conn] (yzcz.west) -- (yzcz-f);
  \draw[conn] (yzcz-f.west) .. controls +(-4,-70) and +(5,0) .. (a1.east);
  \draw[conn] (yzcz-f.west) .. controls +(-4,-24) and +(5,0) .. (a2.east);
  \draw[conn] (yzcz-f.west) .. controls +(-4,24) and +(5,0) .. (a3.east);
  \draw[conn] (yzcz-f.west) .. controls +(-4,70) and +(5,0) .. (a4.east);
  \foreach \nm in {a1,a2,a3,a4} {
    \draw[conn] (\nm.west) -- (\nm-f);
    \draw[conn] (\nm-f.west) .. controls +(-3,-15) and +(4,0) .. (\nm-1.east);
    \draw[conn] (\nm-f.west) -- (\nm-2.east);
    \draw[conn] (\nm-f.west) .. controls +(-3,15) and +(4,0) .. (\nm-3.east);
  }

  % 并发工具类
  \draw[conn] (bfgj.west) -- (bfgj-f);
  \draw[yellowc, line width=0.8pt] (bfgj-f.west) .. controls +(-5,-70) and +(4,0) .. (sem.east);
  \draw[yellowc, line width=0.8pt] (sem.west) -- (sem-f);
  \draw[yellowc, line width=0.8pt] (sem-f) -- (sem-u.east);
  \draw[conn] (bfgj-f.west) .. controls +(-5,-45) and +(3,0) .. (cdl.east);
  \draw[purplec, line width=0.8pt] (bfgj-f.west) .. controls +(-3,-2) and +(4,0) .. (cbq.east);
  \draw[conn] (bfgj-f.west) .. controls +(-5,40) and +(3,0) .. (cb.east);
  \draw[conn] (bfgj-f.west) .. controls +(-5,70) and +(3,0) .. (ex.east);
  \draw[conn] (cdl.west) -- (cdl-f);
  \draw[conn] (cdl-f) -- (cdl-u.east);
  \draw[purplec, line width=2pt] (cbq.west) -- (cbq-f);
  \draw[purplec, line width=2pt] (cbq-f.west) .. controls +(-3,-28) and +(6,0) .. (cbq-u1.east);
  \draw[purplec, line width=2pt] (cbq-f.west) .. controls +(-3,28) and +(6,0) .. (cbq-u2.east);
  \draw[conn] (cb.west) -- (cb-f);
  \draw[conn] (cb-f) -- (cb-u.east);
  \draw[conn] (ex.west) -- (ex-f);
  \draw[conn] (ex-f) -- (ex-u.east);
\end{scope}
\end{tikzpicture}
\end{document}
